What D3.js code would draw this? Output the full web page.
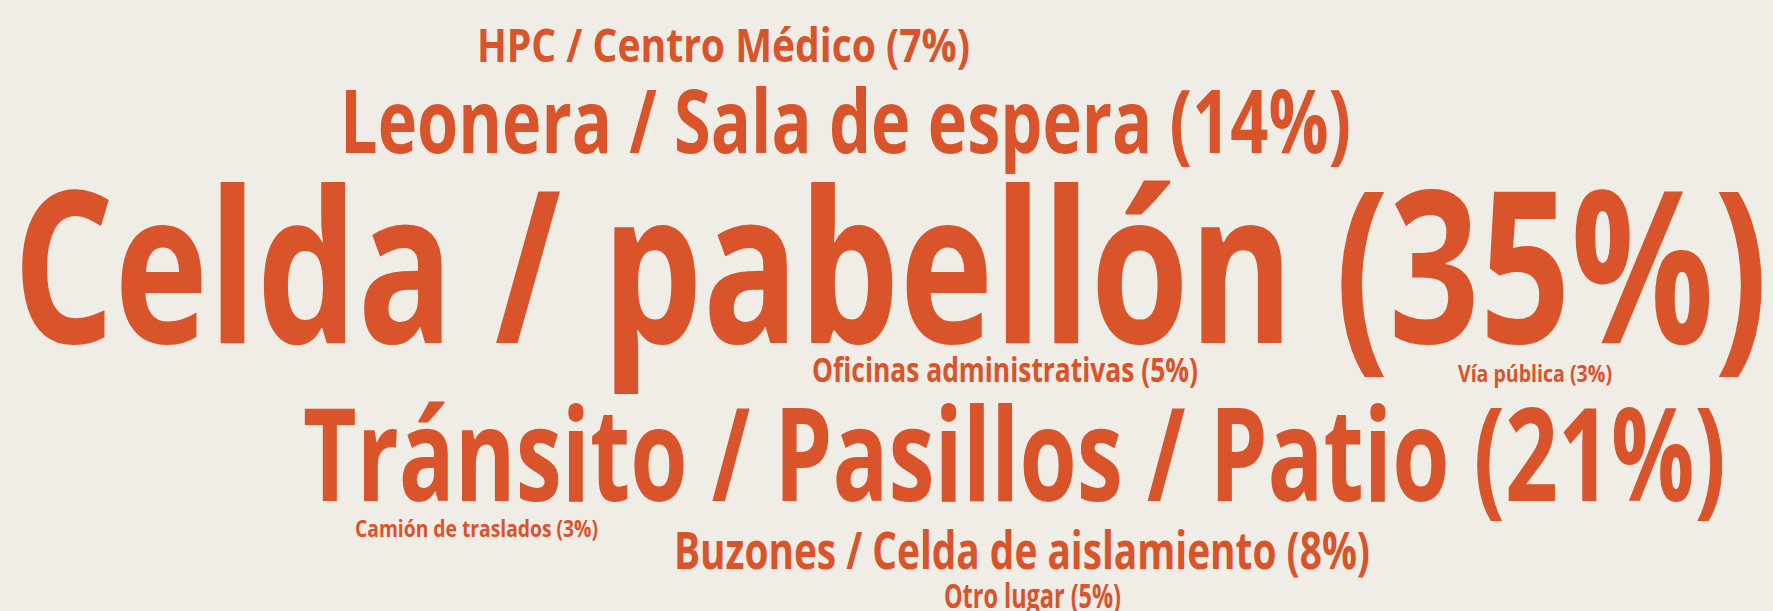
<!DOCTYPE html>
<html>
<head>
<meta charset="utf-8">
<script src="https://cdn.jsdelivr.net/npm/d3@7"></script>
<style>
  html, body { margin: 0; padding: 0; background: #f0ede6; }
  svg { display: block; }
  .word { font-family: "Open Sans", "Noto Sans", sans-serif; font-weight: 700; fill: #d9532b; }
</style>
</head>
<body>
<div id="cloud"></div>
<script>
// lugares de la agresión, % de casos
var lugares = ["Celda / pabellón", "Tránsito / Pasillos / Patio", "Leonera / Sala de espera",
    "Buzones / Celda de aislamiento", "HPC / Centro Médico", "Oficinas administrativas",
    "Otro lugar", "Vía pública", "Camión de traslados"];
var porcentajes = [35, 21, 14, 8, 7, 5, 5, 3, 3];

// placement of each word in the cloud: [left, baseline, right] in 0..1 of the canvas
var layout = [
    [0.0073, 0.5614, 0.9972],
    [0.1709, 0.8200, 0.9735],
    [0.1918, 0.2504, 0.7620],
    [0.3801, 0.9313, 0.7727],
    [0.2690, 0.1015, 0.5471],
    [0.4580, 0.6252, 0.6757],
    [0.5324, 0.9951, 0.6323],
    [0.8223, 0.6252, 0.9092],
    [0.2002, 0.8789, 0.3373]
];

var width = 1773,
    height = 611;

var svg = d3.select("#cloud").append("svg")
    .attr("width", width)
    .attr("height", height);

var size = d3.scaleLinear()
    .domain([3, 35])
    .range([23, 212]);

var x = d3.scaleLinear().domain([0, 1]).range([0, width]);
var y = d3.scaleLinear().domain([0, 1]).range([0, height]);

var words = lugares.map(function(d, i) {
    return {
        text: d + " (" + porcentajes[i] + "%)",
        value: porcentajes[i],
        pos: layout[i]
    };
});

svg.selectAll("text.word")
    .data(words)
    .enter().append("text")
    .attr("class", "word")
    .attr("x", function(d) { return x(d.pos[0]); })
    .attr("y", function(d) { return y(d.pos[1]); })
    .attr("font-size", function(d) { return size(d.value); })
    .attr("textLength", function(d) { return x(d.pos[2]) - x(d.pos[0]); })
    .attr("lengthAdjust", "spacingAndGlyphs")
    .text(function(d) { return d.text; });
</script>
</body>
</html>
